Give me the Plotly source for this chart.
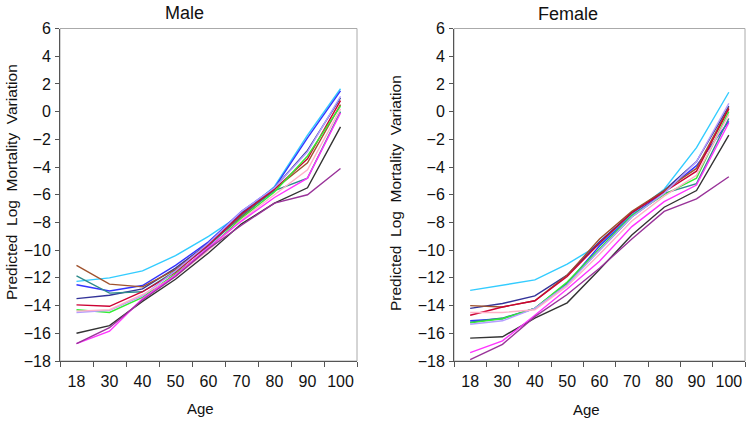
import plotly.graph_objects as go

ages = ["18", "30", "40", "50", "60", "70", "80", "90", "100"]
y_ticks = [6, 4, 2, 0, -2, -4, -6, -8, -10, -12, -14, -16, -18]

series_names = ["cyan", "blue", "navy", "brown", "teal", "red", "green",
                "lavender", "pink", "black", "magenta", "purple"]
series_colors = ["#33CCFF", "#3333FF", "#333399", "#A0522D", "#2E8B8B", "#CC0033",
                 "#33EE33", "#B39DFF", "#FFB0C8", "#333333", "#FF33FF", "#993399"]

male_cyan = [-12.25, -12.0, -11.5, -10.4, -9.0, -7.4, -5.4, -1.7, 1.65]
male_blue = [-12.5, -12.95, -12.55, -11.1, -9.4, -7.2, -5.5, -1.9, 1.5]
male_navy = [-13.5, -13.25, -12.8, -11.3, -9.5, -7.3, -5.5, -2.8, 1.0]
male_brown = [-11.1, -12.45, -12.65, -11.4, -9.6, -7.6, -5.6, -3.7, 0.5]
male_teal = [-11.85, -13.1, -13.0, -11.5, -9.7, -7.5, -5.7, -4.8, 0.0]
male_red = [-13.95, -14.05, -13.0, -11.6, -9.6, -7.4, -5.6, -3.4, 0.8]
male_green = [-14.3, -14.5, -13.4, -11.7, -9.9, -7.7, -5.8, -3.2, 0.4]
male_lavender = [-14.5, -14.35, -13.3, -11.5, -9.5, -7.2, -5.5, -2.9, 1.1]
male_pink = [-14.4, -14.3, -13.2, -11.9, -10.0, -7.8, -6.0, -4.2, 0.2]
male_black = [-16.0, -15.45, -13.7, -12.1, -10.2, -8.1, -6.6, -5.5, -1.1]
male_magenta = [-16.75, -15.85, -13.5, -11.8, -9.8, -7.9, -6.2, -4.8, -0.1]
male_purple = [-16.75, -15.6, -13.6, -11.9, -9.9, -8.2, -6.6, -6.0, -4.1]

female_cyan = [-12.9, -12.55, -12.15, -11.0, -9.6, -7.4, -5.6, -2.6, 1.4]
female_blue = [-15.1, -14.95, -14.2, -12.4, -9.7, -7.5, -5.8, -3.9, -0.7]
female_navy = [-14.2, -13.85, -13.3, -11.8, -9.4, -7.3, -5.7, -3.6, 0.4]
female_brown = [-14.0, -14.1, -13.65, -11.8, -9.2, -7.2, -5.7, -4.1, 0.3]
female_teal = [-15.2, -14.9, -14.2, -12.4, -10.0, -7.6, -5.9, -5.2, -0.5]
female_red = [-14.7, -14.1, -13.65, -11.9, -9.5, -7.3, -5.8, -4.3, 0.2]
female_green = [-15.25, -14.95, -14.2, -12.3, -9.9, -7.5, -6.0, -4.8, 0.0]
female_lavender = [-15.35, -15.1, -14.2, -12.5, -10.0, -7.6, -5.9, -3.6, 0.6]
female_pink = [-14.5, -14.5, -14.3, -12.6, -10.3, -7.9, -6.1, -4.6, -0.2]
female_black = [-16.35, -16.25, -14.9, -13.8, -11.4, -8.9, -6.9, -5.7, -1.7]
female_magenta = [-17.4, -16.55, -14.7, -12.8, -10.8, -8.3, -6.5, -5.3, -0.8]
female_purple = [-17.9, -16.8, -14.8, -13.2, -11.3, -9.2, -7.2, -6.3, -4.7]

male_series = [male_cyan, male_blue, male_navy, male_brown, male_teal, male_red,
               male_green, male_lavender, male_pink, male_black, male_magenta, male_purple]
female_series = [female_cyan, female_blue, female_navy, female_brown, female_teal, female_red,
                 female_green, female_lavender, female_pink, female_black, female_magenta, female_purple]

fig = go.Figure()
for name, col, ys in zip(series_names, series_colors, male_series):
    fig.add_trace(go.Scatter(x=ages, y=ys, mode="lines", name=name,
                             line=dict(color=col, width=1.4), xaxis="x", yaxis="y"))
for name, col, ys in zip(series_names, series_colors, female_series):
    fig.add_trace(go.Scatter(x=ages, y=ys, mode="lines", name=name,
                             line=dict(color=col, width=1.4), xaxis="x2", yaxis="y2"))

W, H = 750, 422
xd1 = [60 / W, 357 / W]
xd2 = [454 / W, 745 / W]
top, bottom = 28.5, 361
yd = [(H - bottom) / H, (H - top) / H]

font = "Liberation Sans, Arial, sans-serif"
xaxis_common = dict(type="category", tickson="boundaries", ticks="outside", ticklen=5,
                    tickangle=0, ticklabelstandoff=6, automargin=False,
                    tickcolor="#555555", showline=True, linecolor="#555555", linewidth=1,
                    showgrid=False, zeroline=False, tickfont=dict(size=16, color="#111111"),
                    range=[-0.5, 8.5])
yaxis_common = dict(range=[-18, 6], tickvals=y_ticks, ticks="outside", ticklen=4,
                    ticklabelstandoff=1, automargin=False,
                    tickcolor="#555555", showline=True, linecolor="#555555", linewidth=1,
                    showgrid=False, zeroline=False, tickfont=dict(size=16, color="#111111"))

ytitle = "Predicted\u00a0\u00a0Log\u00a0\u00a0Mortality\u00a0\u00a0Variation"

fig.update_layout(
    template="none",
    width=W, height=H, showlegend=False,
    margin=dict(l=0, r=0, t=0, b=0, autoexpand=False),
    paper_bgcolor="white", plot_bgcolor="white",
    font=dict(family=font, color="#111111"),
    xaxis=dict(domain=xd1, anchor="y", **xaxis_common),
    yaxis=dict(domain=yd, anchor="x", **yaxis_common),
    xaxis2=dict(domain=xd2, anchor="y2", **xaxis_common),
    yaxis2=dict(domain=yd, anchor="x2", **yaxis_common),
    shapes=[
        dict(type="rect", xref="paper", yref="paper", x0=xd1[0], x1=xd1[1], y0=yd[0], y1=yd[1],
             line=dict(color="#AAAAAA", width=1), layer="below"),
        dict(type="rect", xref="paper", yref="paper", x0=xd2[0], x1=xd2[1], y0=yd[0], y1=yd[1],
             line=dict(color="#AAAAAA", width=1), layer="below"),
    ],
    annotations=[
        dict(text="Male", x=184 / W, y=1 - 13 / H, xref="paper", yref="paper",
             showarrow=False, font=dict(size=18), xanchor="center", yanchor="middle"),
        dict(text="Female", x=568 / W, y=1 - 14 / H, xref="paper", yref="paper",
             showarrow=False, font=dict(size=18), xanchor="center", yanchor="middle"),
        dict(text="Age", x=200 / W, y=1 - 408 / H, xref="paper", yref="paper",
             showarrow=False, font=dict(size=15), xanchor="center", yanchor="middle"),
        dict(text="Age", x=586 / W, y=1 - 409 / H, xref="paper", yref="paper",
             showarrow=False, font=dict(size=15), xanchor="center", yanchor="middle"),
        dict(text=ytitle, x=11 / W, y=1 - 182 / H, xref="paper", yref="paper", textangle=-90,
             showarrow=False, font=dict(size=15.5), xanchor="center", yanchor="middle"),
        dict(text=ytitle, x=395 / W, y=1 - 193 / H, xref="paper", yref="paper", textangle=-90,
             showarrow=False, font=dict(size=15.5), xanchor="center", yanchor="middle"),
    ],
)

fig.write_html("out.html", config={"displayModeBar": False},
               post_script="document.body.style.margin='0';document.body.style.overflow='hidden';")
